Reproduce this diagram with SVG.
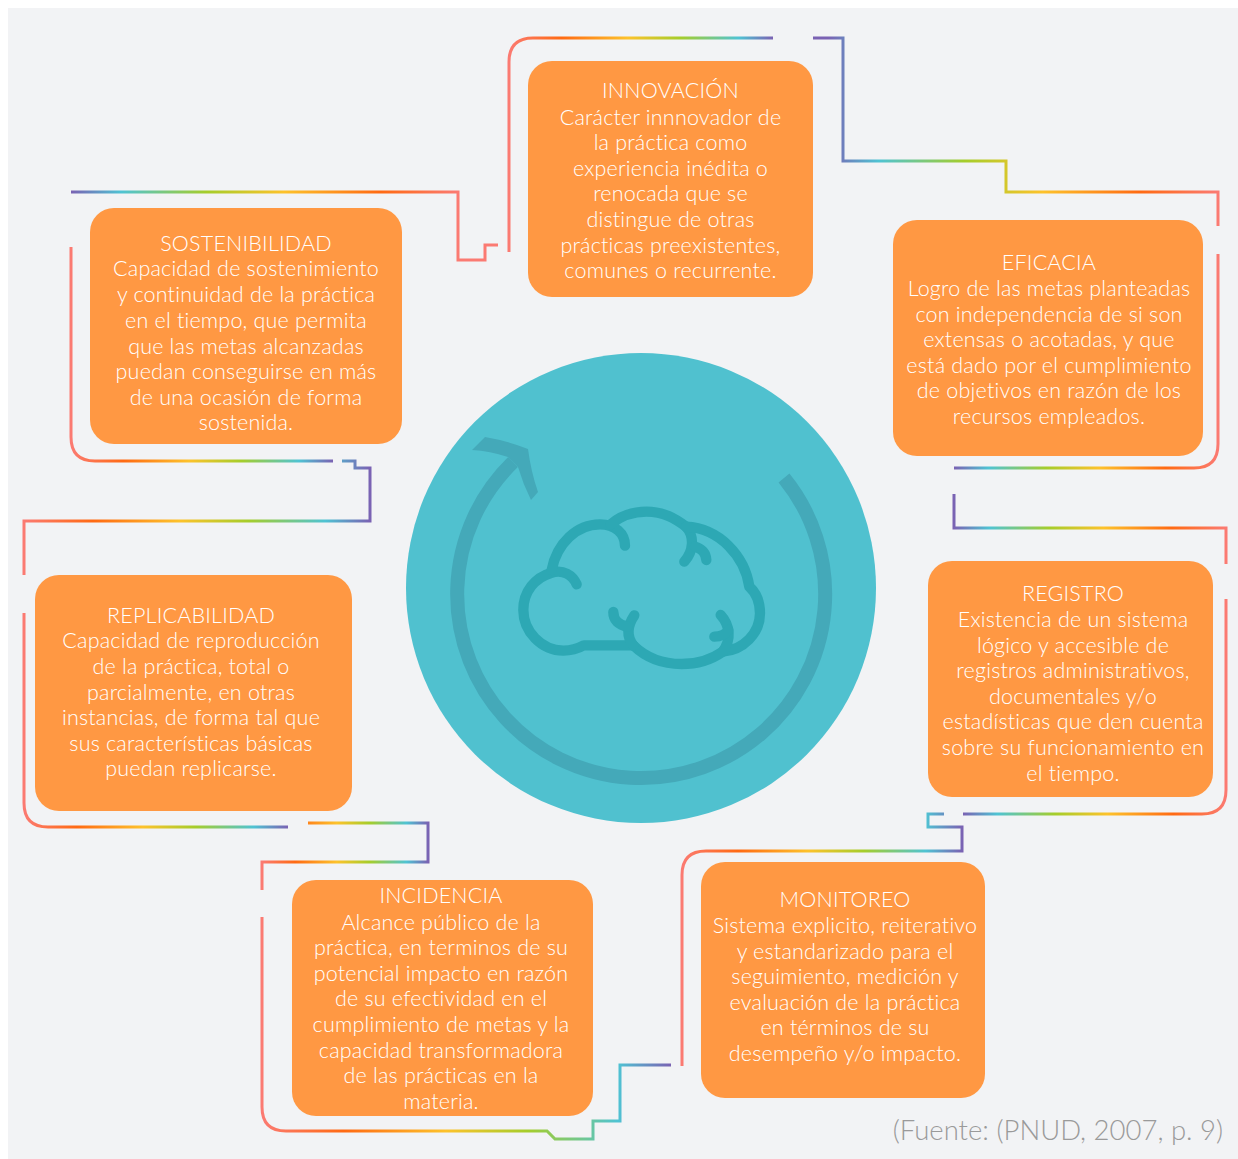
<svg xmlns="http://www.w3.org/2000/svg" xmlns:xlink="http://www.w3.org/1999/xlink" width="1238" height="1159" viewBox="0 0 1238 1159">
<style>
.box{fill:#ff9843}
.t{font-family:"Lato","Liberation Sans",sans-serif;font-size:21.5px;fill:#fff;text-anchor:middle;font-weight:300;letter-spacing:.2px}
.c{fill:none;stroke-width:3}
.ring{fill:none;stroke:#44a9b9;stroke-width:14}
.br{fill:none;stroke:#2da8b4;stroke-width:31;stroke-linecap:round;stroke-linejoin:round}
</style>
<defs>
<linearGradient id="g" gradientUnits="userSpaceOnUse">
<stop offset="0" stop-color="#fb7a72"/><stop offset=".2" stop-color="#ff6a13"/><stop offset=".45" stop-color="#fdc22b"/><stop offset=".65" stop-color="#a5cd2b"/><stop offset=".87" stop-color="#4fc3d3"/><stop offset="1" stop-color="#7a62b3"/>
</linearGradient>
<linearGradient id="g1" xlink:href="#g" x1="509" x2="773" y1="0" y2="0"/>
<linearGradient id="g2" xlink:href="#g" x1="1218" x2="828" y1="0" y2="0"/>
<linearGradient id="g3" xlink:href="#g" x1="1218" x2="954" y1="0" y2="0"/>
<linearGradient id="g4" xlink:href="#g" x1="1226" x2="954" y1="0" y2="0"/>
<linearGradient id="g5" xlink:href="#g" x1="1226" x2="963" y1="0" y2="0"/>
<linearGradient id="g6" xlink:href="#g" x1="682" x2="962" y1="0" y2="0"/>
<linearGradient id="g7" xlink:href="#g" x1="262" x2="671" y1="0" y2="0"/>
<linearGradient id="g8" xlink:href="#g" x1="262" x2="428" y1="0" y2="0"/>
<linearGradient id="g9" xlink:href="#g" x1="24" x2="288" y1="0" y2="0"/>
<linearGradient id="g10" xlink:href="#g" x1="24" x2="370" y1="0" y2="0"/>
<linearGradient id="g11" xlink:href="#g" x1="71" x2="333" y1="0" y2="0"/>
<linearGradient id="g12" xlink:href="#g" x1="458" x2="71" y1="0" y2="0"/>
</defs>
<rect width="1238" height="1159" fill="#fff"/>
<rect x="8" y="8" width="1230" height="1151" fill="#f2f3f5"/>
<g id="connectors">
<path class="c" stroke="url(#g1)" d="M509 252V62Q509 38 533 38H773"/>
<path class="c" stroke="url(#g2)" d="M813 38H843V161H1006V192H1218V226"/>
<path class="c" stroke="url(#g3)" d="M1218 254V444Q1218 468 1194 468H954"/>
<path class="c" stroke="url(#g4)" d="M954 494V528H1226V564"/>
<path class="c" stroke="url(#g5)" d="M1226 599V790Q1226 814 1202 814H963"/>
<path class="c" stroke="url(#g6)" d="M944 814H928V827H962V851H706Q682 851 682 875V1066"/>
<path class="c" stroke="url(#g7)" d="M671 1065H620V1121H593V1139H555L547 1131H286Q262 1131 262 1107V917"/>
<path class="c" stroke="url(#g8)" d="M262 890V862H428V823H308"/>
<path class="c" stroke="url(#g9)" d="M288 827H48Q24 827 24 803V613"/>
<path class="c" stroke="url(#g10)" d="M24 575V521H370V468H355V461H342"/>
<path class="c" stroke="url(#g11)" d="M333 461H95Q71 461 71 437V247"/>
<path class="c" stroke="url(#g12)" d="M71 192H458V260H485V245H498"/>
</g>
<g id="center">
<circle cx="641" cy="588" r="235" fill="#50c1cf"/>
<path class="ring" d="M784 478A184 184 0 1 1 513 462"/>
<path d="M472 450L485 437Q508 441 528 449Q531 472 538 492L531 500Q523 484 518 467L508 457Q490 451 472 450Z" fill="#44a9b9"/>
<g transform="translate(400 340) scale(.33333)">
<path class="br" d="M700 916H552C530 928 510 932 490 932C425 932 370 875 370 810C370 755 405 712 455 698C490 688 518 705 530 733"/>
<path class="br" d="M455 690C470 610 530 553 600 553C645 553 675 580 675 617"/>
<path class="br" d="M632 553C665 525 700 515 740 515C790 515 825 535 858 560C885 590 880 635 853 665"/>
<path class="br" d="M858 560C960 565 1035 650 1048 740C1070 760 1080 790 1080 820C1080 880 1030 930 968 935"/>
<path class="br" d="M700 916C740 955 790 972 845 972C890 972 935 958 968 935C995 900 990 855 962 825"/>
<path class="br" d="M700 916C680 890 680 860 703 826"/>
<path class="br" d="M640 816C640 840 655 855 682 860"/>
<path class="br" d="M943 890C960 890 975 885 985 870"/>
<path class="br" d="M885 620C905 625 918 640 919 660"/>
</g>
</g>
<g id="innovacion"><rect class="box" x="528" y="61" width="285" height="236" rx="24"/>
<text class="t"><tspan x="670.500" y="98">INNOVACIÓN</tspan><tspan x="670.500" y="125">Carácter innnovador de</tspan><tspan x="670.500" y="150">la práctica como</tspan><tspan x="670.500" y="176">experiencia inédita o</tspan><tspan x="670.500" y="201">renocada que se</tspan><tspan x="670.500" y="227">distingue de otras</tspan><tspan x="670.500" y="253">prácticas preexistentes,</tspan><tspan x="670.500" y="278">comunes o recurrente.</tspan></text></g>
<g id="eficacia"><rect class="box" x="893" y="220" width="310" height="236" rx="24"/>
<text class="t"><tspan x="1049" y="270">EFICACIA</tspan><tspan x="1049" y="296">Logro de las metas planteadas</tspan><tspan x="1049" y="322">con independencia de si son</tspan><tspan x="1049" y="347">extensas o acotadas, y que</tspan><tspan x="1049" y="373">está dado por el cumplimiento</tspan><tspan x="1049" y="398">de objetivos en razón de los</tspan><tspan x="1049" y="424">recursos empleados.</tspan></text></g>
<g id="registro"><rect class="box" x="928" y="561" width="285" height="236" rx="24"/>
<text class="t"><tspan x="1073" y="601">REGISTRO</tspan><tspan x="1073" y="627">Existencia de un sistema</tspan><tspan x="1073" y="653">lógico y accesible de</tspan><tspan x="1073" y="678">registros administrativos,</tspan><tspan x="1073" y="704">documentales y/o</tspan><tspan x="1073" y="729">estadísticas que den cuenta</tspan><tspan x="1073" y="755">sobre su funcionamiento en</tspan><tspan x="1073" y="781">el tiempo.</tspan></text></g>
<g id="monitoreo"><rect class="box" x="701" y="862" width="284" height="236" rx="24"/>
<text class="t"><tspan x="845" y="907">MONITOREO</tspan><tspan x="845" y="933">Sistema explicito, reiterativo</tspan><tspan x="845" y="959">y estandarizado para el</tspan><tspan x="845" y="984">seguimiento, medición y</tspan><tspan x="845" y="1010">evaluación de la práctica</tspan><tspan x="845" y="1035">en términos de su</tspan><tspan x="845" y="1061">desempeño y/o impacto.</tspan></text></g>
<g id="incidencia"><rect class="box" x="292" y="880" width="301" height="236" rx="24"/>
<text class="t"><tspan x="441" y="903">INCIDENCIA</tspan><tspan x="441" y="930">Alcance público de la</tspan><tspan x="441" y="955">práctica, en terminos de su</tspan><tspan x="441" y="981">potencial impacto en razón</tspan><tspan x="441" y="1006">de su efectividad en el</tspan><tspan x="441" y="1032">cumplimiento de metas y la</tspan><tspan x="441" y="1058">capacidad transformadora</tspan><tspan x="441" y="1083">de las prácticas en la</tspan><tspan x="441" y="1109">materia.</tspan></text></g>
<g id="replicabilidad"><rect class="box" x="35" y="575" width="317" height="236" rx="24"/>
<text class="t"><tspan x="191" y="623">REPLICABILIDAD</tspan><tspan x="191" y="648">Capacidad de reproducción</tspan><tspan x="191" y="674">de la práctica, total o</tspan><tspan x="191" y="700">parcialmente, en otras</tspan><tspan x="191" y="725">instancias, de forma tal que</tspan><tspan x="191" y="751">sus características básicas</tspan><tspan x="191" y="776">puedan replicarse.</tspan></text></g>
<g id="sostenibilidad"><rect class="box" x="90" y="208" width="312" height="236" rx="24"/>
<text class="t"><tspan x="246" y="251">SOSTENIBILIDAD</tspan><tspan x="246" y="276">Capacidad de sostenimiento</tspan><tspan x="246" y="302">y continuidad de la práctica</tspan><tspan x="246" y="328">en el tiempo, que permita</tspan><tspan x="246" y="354">que las metas alcanzadas</tspan><tspan x="246" y="379">puedan conseguirse en más</tspan><tspan x="246" y="405">de una ocasión de forma</tspan><tspan x="246" y="430">sostenida.</tspan></text></g>
<text id="fuente" x="1223" y="1140" font-family="Lato,'Liberation Sans',sans-serif" font-size="27.5" font-weight="300" fill="#9a9a9a" text-anchor="end">(Fuente: (PNUD, 2007, p. 9)</text>
</svg>
